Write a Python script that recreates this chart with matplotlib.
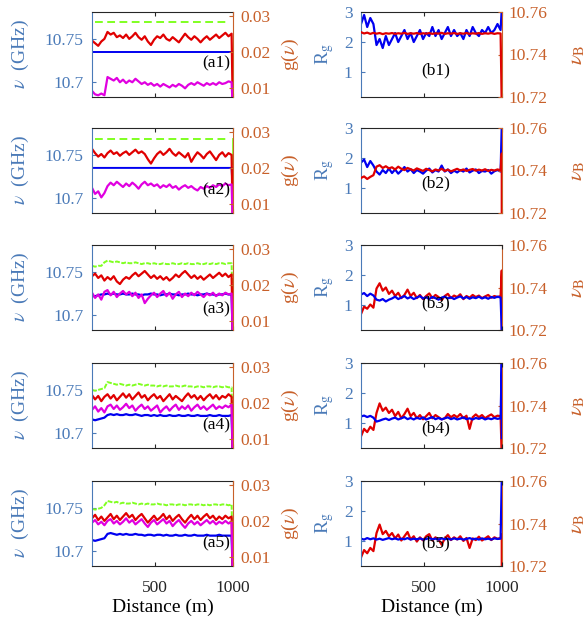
import numpy as np
import matplotlib
matplotlib.use('Agg')
import matplotlib.pyplot as plt

plt.rcParams['font.family'] = 'serif'
plt.rcParams['font.serif'] = ['Liberation Serif', 'DejaVu Serif']
plt.rcParams['mathtext.fontset'] = 'stix'

# ---------------- data ----------------
distance = np.arange(92, 1000, 20)      # 46 samples (m)
x_end = 999.5                            # fibre-end artefact position

# left column: nu (GHz)
a1_green = 10.7695
a1_blue = 10.735
a1_red = [10.748, 10.745, 10.742, 10.747, 10.750, 10.758, 10.755, 10.757, 10.752, 10.754,
          10.751, 10.755, 10.750, 10.753, 10.757, 10.752, 10.749, 10.753, 10.747, 10.743,
          10.749, 10.753, 10.751, 10.755, 10.750, 10.748, 10.752, 10.749, 10.746, 10.751,
          10.756, 10.752, 10.749, 10.753, 10.750, 10.746, 10.750, 10.753, 10.749, 10.752,
          10.755, 10.751, 10.754, 10.757, 10.753, 10.756]
a1_magenta = [10.690, 10.686, 10.685, 10.687, 10.685, 10.706, 10.704, 10.702, 10.705, 10.700,
              10.703, 10.699, 10.702, 10.700, 10.704, 10.701, 10.698, 10.700, 10.697, 10.699,
              10.696, 10.698, 10.695, 10.698, 10.696, 10.694, 10.697, 10.695, 10.698, 10.696,
              10.693, 10.697, 10.699, 10.697, 10.700, 10.698, 10.696, 10.699, 10.697, 10.699,
              10.697, 10.700, 10.698, 10.699, 10.701, 10.700]

a2_green = 10.768
a2_blue = 10.735
a2_red = [10.757, 10.752, 10.748, 10.751, 10.747, 10.752, 10.755, 10.751, 10.753, 10.749,
          10.752, 10.754, 10.750, 10.753, 10.756, 10.752, 10.754, 10.751, 10.745, 10.740,
          10.746, 10.751, 10.754, 10.750, 10.753, 10.757, 10.752, 10.749, 10.753, 10.750,
          10.747, 10.752, 10.742, 10.748, 10.753, 10.750, 10.746, 10.751, 10.754, 10.749,
          10.744, 10.750, 10.753, 10.748, 10.752, 10.750]
a2_magenta = [10.712, 10.705, 10.708, 10.701, 10.706, 10.714, 10.718, 10.715, 10.719, 10.716,
              10.713, 10.717, 10.714, 10.718, 10.715, 10.711, 10.716, 10.719, 10.715, 10.717,
              10.714, 10.716, 10.712, 10.715, 10.713, 10.716, 10.712, 10.714, 10.710, 10.713,
              10.715, 10.712, 10.714, 10.711, 10.709, 10.713, 10.711, 10.714, 10.712, 10.715,
              10.713, 10.716, 10.714, 10.717, 10.715, 10.716]

a3_green = [10.757, 10.756, 10.757, 10.757, 10.761, 10.763, 10.762, 10.761, 10.762, 10.761,
            10.760, 10.761, 10.760, 10.760, 10.761, 10.760, 10.759, 10.760, 10.760, 10.759,
            10.760, 10.759, 10.759, 10.760, 10.759, 10.759, 10.760, 10.759, 10.759, 10.760,
            10.759, 10.760, 10.759, 10.759, 10.760, 10.759, 10.759, 10.760, 10.759, 10.760,
            10.759, 10.760, 10.760, 10.759, 10.760, 10.760]
a3_blue = [10.722, 10.722, 10.723, 10.724, 10.724, 10.725, 10.724, 10.725, 10.724, 10.724,
           10.725, 10.724, 10.724, 10.725, 10.724, 10.724, 10.723, 10.724, 10.724, 10.725,
           10.724, 10.724, 10.723, 10.724, 10.724, 10.725, 10.724, 10.724, 10.723, 10.724,
           10.724, 10.725, 10.724, 10.724, 10.723, 10.724, 10.724, 10.725, 10.724, 10.724,
           10.723, 10.724, 10.724, 10.725, 10.724, 10.724]
a3_red = [10.745, 10.748, 10.743, 10.746, 10.740, 10.744, 10.741, 10.745, 10.739, 10.736,
          10.741, 10.744, 10.742, 10.746, 10.749, 10.745, 10.748, 10.751, 10.747, 10.743,
          10.746, 10.742, 10.745, 10.741, 10.744, 10.740, 10.743, 10.747, 10.744, 10.748,
          10.751, 10.747, 10.743, 10.746, 10.742, 10.745, 10.741, 10.744, 10.747, 10.743,
          10.746, 10.749, 10.745, 10.748, 10.744, 10.747]
a3_magenta = [10.726, 10.720, 10.724, 10.718, 10.727, 10.729, 10.723, 10.727, 10.721, 10.725,
              10.728, 10.724, 10.727, 10.722, 10.726, 10.720, 10.724, 10.714, 10.719, 10.723,
              10.726, 10.721, 10.725, 10.728, 10.722, 10.726, 10.719, 10.724, 10.727, 10.721,
              10.725, 10.722, 10.726, 10.723, 10.727, 10.724, 10.721, 10.725, 10.723, 10.726,
              10.722, 10.725, 10.723, 10.726, 10.724, 10.725]

a4_green = [10.750, 10.749, 10.750, 10.751, 10.752, 10.759, 10.758, 10.757, 10.756, 10.757,
            10.756, 10.755, 10.756, 10.755, 10.756, 10.757, 10.756, 10.755, 10.756, 10.755,
            10.755, 10.754, 10.755, 10.754, 10.755, 10.754, 10.754, 10.755, 10.754, 10.754,
            10.755, 10.754, 10.754, 10.753, 10.754, 10.754, 10.753, 10.754, 10.754, 10.753,
            10.754, 10.754, 10.753, 10.754, 10.753, 10.753]
a4_blue = [10.716, 10.715, 10.716, 10.717, 10.718, 10.721, 10.722, 10.721, 10.722, 10.721,
           10.721, 10.722, 10.721, 10.721, 10.722, 10.721, 10.720, 10.721, 10.721, 10.720,
           10.721, 10.720, 10.721, 10.720, 10.720, 10.721, 10.720, 10.720, 10.721, 10.720,
           10.720, 10.721, 10.720, 10.720, 10.721, 10.720, 10.720, 10.720, 10.721, 10.720,
           10.720, 10.721, 10.720, 10.720, 10.720, 10.721]
a4_red = [10.744, 10.739, 10.743, 10.737, 10.742, 10.745, 10.740, 10.744, 10.738, 10.742,
          10.746, 10.741, 10.745, 10.739, 10.743, 10.747, 10.741, 10.744, 10.738, 10.742,
          10.745, 10.740, 10.743, 10.737, 10.741, 10.745, 10.739, 10.743, 10.740, 10.737,
          10.742, 10.746, 10.741, 10.744, 10.739, 10.743, 10.738, 10.742, 10.745, 10.740,
          10.744, 10.739, 10.743, 10.741, 10.745, 10.742]
a4_magenta = [10.727, 10.731, 10.725, 10.729, 10.724, 10.731, 10.733, 10.728, 10.732, 10.727,
              10.730, 10.734, 10.729, 10.732, 10.726, 10.730, 10.733, 10.728, 10.731, 10.726,
              10.729, 10.732, 10.724, 10.728, 10.731, 10.726, 10.730, 10.733, 10.727, 10.731,
              10.728, 10.732, 10.726, 10.730, 10.733, 10.728, 10.731, 10.727, 10.730, 10.733,
              10.728, 10.731, 10.729, 10.732, 10.730, 10.733]

a5_green = [10.749, 10.748, 10.749, 10.750, 10.753, 10.758, 10.757, 10.756, 10.757, 10.755,
            10.756, 10.755, 10.755, 10.756, 10.755, 10.754, 10.755, 10.754, 10.755, 10.754,
            10.754, 10.755, 10.754, 10.754, 10.753, 10.754, 10.754, 10.753, 10.754, 10.754,
            10.753, 10.754, 10.754, 10.753, 10.754, 10.754, 10.753, 10.754, 10.753, 10.754,
            10.754, 10.753, 10.754, 10.754, 10.753, 10.754]
a5_blue = [10.713, 10.712, 10.713, 10.714, 10.715, 10.720, 10.721, 10.720, 10.719, 10.720,
           10.719, 10.720, 10.719, 10.719, 10.720, 10.719, 10.719, 10.718, 10.719, 10.719,
           10.718, 10.719, 10.719, 10.718, 10.719, 10.718, 10.718, 10.719, 10.718, 10.718,
           10.719, 10.718, 10.718, 10.719, 10.718, 10.718, 10.718, 10.719, 10.718, 10.718,
           10.718, 10.719, 10.718, 10.718, 10.718, 10.718]
a5_red = [10.738, 10.742, 10.736, 10.740, 10.735, 10.739, 10.743, 10.737, 10.741, 10.736,
          10.740, 10.744, 10.739, 10.742, 10.736, 10.740, 10.743, 10.738, 10.733, 10.737,
          10.741, 10.736, 10.739, 10.743, 10.737, 10.741, 10.735, 10.739, 10.742, 10.737,
          10.733, 10.738, 10.742, 10.737, 10.741, 10.736, 10.740, 10.743, 10.738, 10.741,
          10.736, 10.740, 10.737, 10.741, 10.738, 10.740]
a5_magenta = [10.733, 10.736, 10.731, 10.734, 10.730, 10.735, 10.737, 10.732, 10.735, 10.731,
              10.734, 10.738, 10.733, 10.736, 10.731, 10.734, 10.737, 10.732, 10.728, 10.733,
              10.736, 10.731, 10.734, 10.737, 10.732, 10.735, 10.729, 10.733, 10.736, 10.731,
              10.727, 10.732, 10.735, 10.731, 10.734, 10.730, 10.733, 10.736, 10.732, 10.735,
              10.731, 10.734, 10.732, 10.735, 10.732, 10.734]

# end-of-fibre values (GHz) for [green, blue, red, magenta]
a1_ends = [None, None, 10.67, 10.67]
a2_ends = [10.741, 10.705, 10.67, 10.67]
a3_ends = [10.690, 10.67, 10.67, 10.67]
a4_ends = [10.690, 10.67, 10.67, 10.67]
a5_ends = [10.685, 10.67, 10.67, 10.67]

# right column: R_g (blue, left axis) and nu_B (red, right axis)
b1_rg = [2.6, 2.9, 2.5, 2.8, 2.6, 1.9, 2.1, 1.8, 2.2, 1.9,
         2.1, 2.3, 2.0, 2.2, 2.4, 2.1, 2.3, 2.0, 2.2, 2.4,
         2.1, 2.3, 2.2, 2.5, 2.2, 2.4, 2.1, 2.3, 2.5, 2.2,
         2.4, 2.2, 2.3, 2.1, 2.4, 2.2, 2.5, 2.3, 2.2, 2.4,
         2.3, 2.5, 2.3, 2.4, 2.6, 2.4]
b1_nub = [10.7505, 10.7499, 10.7503, 10.7497, 10.7502, 10.7498, 10.7501, 10.7496, 10.7500, 10.7498,
          10.7501, 10.7497, 10.7500, 10.7498, 10.7502, 10.7497, 10.7500, 10.7498, 10.7501, 10.7497,
          10.7500, 10.7498, 10.7501, 10.7497, 10.7500, 10.7498, 10.7502, 10.7497, 10.7500, 10.7498,
          10.7501, 10.7497, 10.7500, 10.7498, 10.7501, 10.7497, 10.7500, 10.7498, 10.7501, 10.7497,
          10.7500, 10.7498, 10.7501, 10.7497, 10.7500, 10.7499]
b2_rg = [1.85, 1.95, 1.70, 1.90, 1.75, 1.55, 1.45, 1.60, 1.50, 1.65,
         1.50, 1.62, 1.48, 1.58, 1.70, 1.55, 1.63, 1.50, 1.60, 1.55,
         1.48, 1.58, 1.65, 1.52, 1.60, 1.55, 1.75, 1.55, 1.62, 1.50,
         1.58, 1.52, 1.60, 1.55, 1.65, 1.52, 1.58, 1.62, 1.50, 1.57,
         1.55, 1.60, 1.48, 1.56, 1.60, 1.55]
b2_nub = [10.7365, 10.7372, 10.7360, 10.7370, 10.7378, 10.7418, 10.7425, 10.7412, 10.7420, 10.7410,
          10.7415, 10.7405, 10.7418, 10.7408, 10.7402, 10.7412, 10.7406, 10.7400, 10.7410, 10.7404,
          10.7398, 10.7408, 10.7402, 10.7396, 10.7405, 10.7400, 10.7408, 10.7398, 10.7404, 10.7396,
          10.7402, 10.7408, 10.7400, 10.7405, 10.7398, 10.7403, 10.7407, 10.7399, 10.7404, 10.7400,
          10.7406, 10.7398, 10.7403, 10.7400, 10.7405, 10.7401]
b3_rg = [1.35, 1.40, 1.30, 1.38, 1.32, 1.18, 1.15, 1.20, 1.12, 1.18,
         1.22, 1.28, 1.20, 1.25, 1.30, 1.22, 1.27, 1.20, 1.25, 1.30,
         1.22, 1.26, 1.20, 1.27, 1.23, 1.18, 1.25, 1.28, 1.22, 1.26,
         1.20, 1.25, 1.29, 1.22, 1.27, 1.21, 1.26, 1.23, 1.28, 1.22,
         1.26, 1.21, 1.27, 1.24, 1.28, 1.25]
b3_nub = [10.7275, 10.7310, 10.7300, 10.7320, 10.7305, 10.7395, 10.7420, 10.7385, 10.7400, 10.7370,
          10.7385, 10.7360, 10.7375, 10.7350, 10.7365, 10.7390, 10.7360, 10.7375, 10.7350, 10.7365,
          10.7345, 10.7360, 10.7372, 10.7350, 10.7365, 10.7355, 10.7340, 10.7360, 10.7370, 10.7350,
          10.7362, 10.7355, 10.7368, 10.7345, 10.7360, 10.7352, 10.7365, 10.7355, 10.7362, 10.7350,
          10.7358, 10.7365, 10.7352, 10.7360, 10.7355, 10.7360]
b4_rg = [1.22, 1.25, 1.20, 1.24, 1.18, 1.05, 1.08, 1.12, 1.15, 1.10,
         1.15, 1.18, 1.12, 1.16, 1.20, 1.13, 1.17, 1.12, 1.18, 1.14,
         1.19, 1.12, 1.16, 1.20, 1.13, 1.17, 1.12, 1.16, 1.19, 1.13,
         1.17, 1.12, 1.15, 1.19, 1.13, 1.16, 1.12, 1.17, 1.14, 1.18,
         1.12, 1.16, 1.13, 1.17, 1.14, 1.16]
b4_nub = [10.7255, 10.7290, 10.7275, 10.7300, 10.7285, 10.7365, 10.7410, 10.7375, 10.7390, 10.7365,
          10.7380, 10.7350, 10.7370, 10.7340, 10.7360, 10.7385, 10.7350, 10.7365, 10.7340, 10.7355,
          10.7335, 10.7350, 10.7365, 10.7340, 10.7355, 10.7345, 10.7335, 10.7340, 10.7360, 10.7345,
          10.7355, 10.7345, 10.7360, 10.7340, 10.7352, 10.7290, 10.7345, 10.7358, 10.7345, 10.7355,
          10.7340, 10.7350, 10.7358, 10.7345, 10.7352, 10.7350]
b5_rg = [1.08, 1.05, 1.10, 1.06, 1.09, 1.05, 1.08, 1.04, 1.07, 1.10,
         1.06, 1.09, 1.05, 1.08, 1.06, 1.10, 1.05, 1.08, 1.06, 1.09,
         1.05, 1.07, 1.10, 1.06, 1.08, 1.05, 1.09, 1.06, 1.08, 1.05,
         1.09, 1.06, 1.08, 1.05, 1.07, 1.10, 1.06, 1.08, 1.05, 1.09,
         1.06, 1.08, 1.05, 1.09, 1.07, 1.08]
b5_nub = [10.7240, 10.7275, 10.7260, 10.7285, 10.7270, 10.7355, 10.7395, 10.7350, 10.7365, 10.7340,
          10.7355, 10.7330, 10.7348, 10.7320, 10.7340, 10.7360, 10.7325, 10.7340, 10.7315, 10.7335,
          10.7320, 10.7340, 10.7350, 10.7320, 10.7335, 10.7325, 10.7300, 10.7330, 10.7345, 10.7322,
          10.7335, 10.7325, 10.7340, 10.7318, 10.7332, 10.7285, 10.7330, 10.7322, 10.7338, 10.7320,
          10.7330, 10.7340, 10.7322, 10.7335, 10.7328, 10.7332]
# end values: (R_g, nu_B)
b1_ends = ([3.1], [10.715])
b2_ends = ([3.1], [10.748, 10.715])
b3_ends = ([0.1], [10.748, 10.715])
b4_ends = ([3.1, 0.5], [10.715])
b5_ends = ([3.1], [10.735, 10.715])

left_labels = ['(a1)', '(a2)', '(a3)', '(a4)', '(a5)']
right_labels = ['(b1)', '(b2)', '(b3)', '(b4)', '(b5)']
nu_ticks = [10.7, 10.75]
nu_ticklabels = ['10.7', '10.75']
g_ticks = [0.01, 0.02, 0.03]
g_ticklabels = ['0.01', '0.02', '0.03']
rg_ticks = [1, 2, 3]
nub_ticks = [10.72, 10.74, 10.76]
nub_ticklabels = ['10.72', '10.74', '10.76']
x_ticks = [500, 1000]

# ---------------- styling ----------------
BLUE_TXT = '#4a7ab8'
ORANGE_TXT = '#c8602a'
FRAME = '#262626'
C_BLUE = '#0000f0'
C_RED = '#e00000'
C_MAG = '#e000e0'
C_GREEN = '#80ff20'
LW = 1.6

W, H = 586, 623
fig = plt.figure(figsize=(W / 100, H / 100), dpi=100)

row_bottoms = [97, 213, 330, 448, 566]
ax_h = 85
left_x, right_x, ax_w = 92, 361, 141


def style_axes(ax, ax2, bottom_row):
    ax.set_xlim(92, 1001)
    ax.set_xticks(x_ticks)
    ax.tick_params(axis='x', direction='in', length=3, top=True, colors=FRAME,
                   labelsize=12.5, labelbottom=bottom_row, pad=10)
    ax.tick_params(axis='y', direction='in', length=3, colors=BLUE_TXT, labelsize=12.5, pad=6)
    ax2.tick_params(axis='y', direction='in', length=3, colors=ORANGE_TXT, labelsize=12.5, pad=5)
    for s in ['top', 'bottom']:
        ax.spines[s].set_color(FRAME)
        ax.spines[s].set_linewidth(0.8)
        ax2.spines[s].set_visible(False)
    ax.spines['left'].set_color(BLUE_TXT)
    ax.spines['right'].set_visible(False)
    ax2.spines['left'].set_visible(False)
    ax2.spines['right'].set_color(ORANGE_TXT)
    if bottom_row:
        ax.set_xlabel('Distance (m)', fontsize=14, labelpad=2)


left_data = [
    (a1_green, a1_blue, a1_red, a1_magenta, a1_ends),
    (a2_green, a2_blue, a2_red, a2_magenta, a2_ends),
    (a3_green, a3_blue, a3_red, a3_magenta, a3_ends),
    (a4_green, a4_blue, a4_red, a4_magenta, a4_ends),
    (a5_green, a5_blue, a5_red, a5_magenta, a5_ends),
]
right_data = [
    (b1_rg, b1_nub, b1_ends, False),
    (b2_rg, b2_nub, b2_ends, False),
    (b3_rg, b3_nub, b3_ends, True),
    (b4_rg, b4_nub, b4_ends, True),
    (b5_rg, b5_nub, b5_ends, True),
]
left_label_y = [0.30, 0.17, 0.15, 0.17, 0.17]
right_label_y = [0.22, 0.25, 0.22, 0.14, 0.17]


def with_end(vals, ends):
    v = list(np.broadcast_to(vals, distance.shape)) if np.ndim(vals) == 0 else list(vals)
    xs = list(distance)
    if ends:
        for e in ends:
            xs.append(x_end)
            v.append(e)
    return xs, v


for r in range(5):
    bottom = (H - row_bottoms[r]) / H
    h = ax_h / H
    bottom_row = (r == 4)

    # ----- left column -----
    ax = fig.add_axes([left_x / W, bottom, ax_w / W, h])
    ax2 = ax.twinx()
    green, blue, red, mag, ends = left_data[r]
    if np.ndim(green) == 0:
        ax.plot(distance[1:-1], np.full(len(distance) - 2, green), color=C_GREEN, lw=1.4,
                dashes=(4.0, 2.3))
    else:
        xs, v = with_end(green, [ends[0]])
        ax.plot(xs, v, color=C_GREEN, lw=1.4, dashes=(2.5, 0.8))
    if np.ndim(blue) == 0:
        if ends[1] is None:
            ax.axhline(blue, color=C_BLUE, lw=1.4)
        else:
            xs, v = with_end(blue, [ends[1]])
            ax.plot(xs, v, color=C_BLUE, lw=1.4)
        if np.ndim(green) == 0 and ends[0] is not None:
            ax.plot([x_end, x_end], [green, ends[0]], color=C_GREEN, lw=2.0)
    else:
        xs, v = with_end(blue, [ends[1]])
        ax.plot(xs, v, color=C_BLUE, lw=LW)
    xs, v = with_end(red, [ends[2]])
    ax.plot(xs, v, color=C_RED, lw=LW)
    xs, v = with_end(mag, [ends[3]])
    ax.plot(xs, v, color=C_MAG, lw=LW)
    ax.set_ylim(10.683, 10.781)
    ax.set_yticks(nu_ticks)
    ax.set_yticklabels(nu_ticklabels)
    ax2.set_ylim(0.0076, 0.031)
    ax2.set_yticks(g_ticks)
    ax2.set_yticklabels(g_ticklabels)
    style_axes(ax, ax2, bottom_row)
    ax.set_ylabel(r'$\nu$  (GHz)', color=BLUE_TXT, fontsize=14)
    ax.yaxis.set_label_coords(-0.43, 0.5)
    ax2.set_ylabel(r'g($\nu$)', color=ORANGE_TXT, fontsize=14)
    ax2.yaxis.set_label_coords(1.33, 0.5)
    ax.text(0.88, left_label_y[r], left_labels[r], transform=ax.transAxes,
            ha='center', va='bottom', fontsize=12.5, color='black', zorder=10)

    # ----- right column -----
    bx = fig.add_axes([right_x / W, bottom, ax_w / W, h])
    bx2 = bx.twinx()
    rg, nub, (rg_end, nub_end), blue_top = right_data[r]
    xs, v = with_end(rg, rg_end)
    bx.plot(xs, v, color=C_BLUE, lw=LW)
    xs, v = with_end(nub, nub_end)
    bx2.plot(xs, v, color=C_RED, lw=LW)
    if blue_top:
        bx.set_zorder(bx2.get_zorder() + 1)
        bx.patch.set_visible(False)
    bx.set_ylim(0.17, 3)
    bx.set_yticks(rg_ticks)
    bx2.set_ylim(10.72, 10.76)
    bx2.set_yticks(nub_ticks)
    bx2.set_yticklabels(nub_ticklabels)
    style_axes(bx, bx2, bottom_row)
    bx.set_ylabel(r'R$_{\rm g}$', color=BLUE_TXT, fontsize=14)
    bx.yaxis.set_label_coords(-0.18, 0.5)
    bx2.set_ylabel(r'$\nu_{\rm B}$', color=ORANGE_TXT, fontsize=15)
    bx2.yaxis.set_label_coords(1.47, 0.5)
    tgt = bx2 if not blue_top else bx
    tgt.text(0.53, right_label_y[r], right_labels[r], transform=bx.transAxes,
             ha='center', va='bottom', fontsize=12.5, color='black', zorder=10)

fig.savefig('out.png', dpi=100)
